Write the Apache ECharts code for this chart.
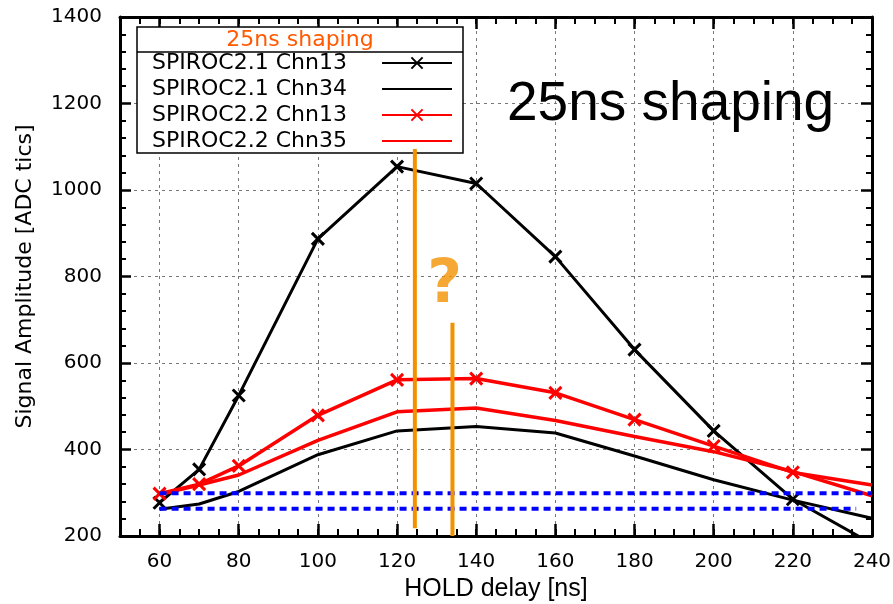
<!DOCTYPE html>
<html>
<head>
<meta charset="utf-8">
<script src="https://cdn.jsdelivr.net/npm/echarts@6/dist/echarts.min.js"></script>
<style>
  html, body { margin: 0; padding: 0; background: #fff; }
  #chart { width: 893px; height: 604px; }
</style>
</head>
<body>
<div id="chart"></div>
<script>
// HOLD delay [ns]
const holdDelay = [60, 70, 80, 100, 120, 140, 160, 180, 200, 220, 240];
const xMajorTicks = [60, 80, 100, 120, 140, 160, 180, 200, 220, 240];

// signal amplitudes [ADC tics]
const spiroc21Chn13 = [277, 354, 525, 887, 1054, 1015, 846, 631, 443, 285, 182];
const spiroc21Chn34 = [262, 274, 303, 388, 443, 453, 438, 385, 330, 283, 241];
const spiroc22Chn13 = [298, 320, 362, 479, 561, 564, 531, 469, 408, 347, 318];
const spiroc22Chn35 = [296, 318, 341, 421, 487, 496, 467, 430, 395, 349, 293];

const legendNames = ['SPIROC2.1 Chn13', 'SPIROC2.1 Chn34', 'SPIROC2.2 Chn13', 'SPIROC2.2 Chn35'];

// pedestal levels (blue dotted)
const pedestalHigh = [[60, 299], [240, 299]];
const pedestalLow = [[60, 263], [236, 263]];

// orange markers
const holdMarkA = [[124.5, 218], [124.5, 1095]];
const holdMarkB = [[134, 200], [134, 693]];
const questionAt = [[132, 778]];

// the point on the right border shows no marker in the original
const pairs = (ys) => ys.map((y, i) => (
  i === ys.length - 1 ? { value: [holdDelay[i], y], symbol: 'none' } : [holdDelay[i], y]
));

const FONT = 'DejaVu Sans';
const crossSymbol = 'path://M0,0L10,10M10,0L0,10';

const chart = echarts.init(document.getElementById('chart'), null, { renderer: 'canvas' });

const minorX = (position) => ({
  type: 'value', min: 50, max: 240, interval: 5, position,
  axisLine: { show: false },
  axisTick: { show: true, inside: true, length: 7, lineStyle: { color: '#000', width: 2 } },
  axisLabel: { show: false },
  splitLine: { show: false },
});

const baseLine = (name, data, color, width, withMarker) => ({
  name,
  type: 'line',
  data: pairs(data),
  symbol: withMarker ? crossSymbol : 'none',
  symbolSize: 12,
  showSymbol: withMarker,
  itemStyle: { color, borderColor: color, borderWidth: 3 },
  lineStyle: { color, width },
  z: 3,
});

chart.setOption({
  animation: false,
  grid: { left: 120, right: 21, top: 17, bottom: 68, outerBoundsMode: 'none' },
  xAxis: [
    {
      type: 'value', min: 50, max: 240, interval: 10, position: 'bottom',
      name: 'HOLD delay [ns]', nameLocation: 'middle', nameGap: 34,
      nameTextStyle: { fontFamily: 'Liberation Sans', fontSize: 25, color: '#000' },
      axisLine: { show: true, lineStyle: { color: '#000', width: 3 } },
      axisTick: { show: true, inside: true, length: 12, customValues: xMajorTicks, lineStyle: { color: '#000', width: 2.5 } },
      axisLabel: { customValues: xMajorTicks, fontFamily: FONT, fontSize: 20, color: '#000', margin: 16 },
      splitLine: { show: true, lineStyle: { color: '#777', width: 1, type: [3, 4] } },
    },
    minorX('bottom'),
    {
      type: 'value', min: 50, max: 240, interval: 10, position: 'top',
      axisLine: { show: true, lineStyle: { color: '#000', width: 3 } },
      axisTick: { show: true, inside: true, length: 12, customValues: xMajorTicks, lineStyle: { color: '#000', width: 2.5 } },
      axisLabel: { show: false },
      splitLine: { show: false },
    },
    minorX('top'),
  ],
  yAxis: [
    {
      type: 'value', min: 200, max: 1400, interval: 200, position: 'left',
      name: 'Signal Amplitude [ADC tics]', nameLocation: 'middle', nameGap: 84,
      nameTextStyle: { fontFamily: FONT, fontSize: 22, color: '#000' },
      axisLine: { show: true, lineStyle: { color: '#000', width: 3 } },
      axisTick: { show: true, inside: true, length: 11, lineStyle: { color: '#000', width: 2.5 } },
      minorTick: { show: true, splitNumber: 5, length: 6, lineStyle: { color: '#000', width: 2 } },
      axisLabel: { fontFamily: FONT, fontSize: 20, color: '#000', margin: 18, formatter: (v) => String(v) },
      splitLine: { show: true, lineStyle: { color: '#777', width: 1, type: [3, 4] } },
    },
    {
      type: 'value', min: 200, max: 1400, interval: 200, position: 'right',
      axisLine: { show: true, lineStyle: { color: '#000', width: 3 } },
      axisTick: { show: true, inside: true, length: 11, lineStyle: { color: '#000', width: 2.5 } },
      minorTick: { show: true, splitNumber: 5, length: 6, lineStyle: { color: '#000', width: 2 } },
      axisLabel: { show: false },
      splitLine: { show: false },
    },
  ],
  legend: {
    // markerless series get a bare line as icon
    data: legendNames.map((name, i) => (i % 2 === 1 ? { name, itemStyle: { opacity: 0 } } : { name })),
    orient: 'vertical',
    left: 152, top: 50,
    padding: 0,
    align: 'right',
    itemWidth: 70, itemHeight: 14, itemGap: 0,
    selectedMode: false,
    formatter: (name) => '{t|' + name + '}',
    textStyle: {
      fontFamily: FONT, fontSize: 22, color: '#000', lineHeight: 26,
      rich: { t: { fontFamily: FONT, fontSize: 22, color: '#000', width: 225, align: 'left', lineHeight: 26 } },
    },
    z: 6,
  },
  graphic: [
    { type: 'rect', shape: { x: 137, y: 27, width: 326, height: 126 }, style: { fill: '#fff', stroke: '#000', lineWidth: 1.5 }, z: 5 },
    { type: 'line', shape: { x1: 137, y1: 52, x2: 463, y2: 52 }, style: { stroke: '#000', lineWidth: 1.5 }, z: 5 },
    { type: 'text', x: 300, y: 40, style: { text: '25ns shaping', fill: '#ff5a00', font: '22px "DejaVu Sans"', textAlign: 'center', textVerticalAlign: 'middle' }, z: 7 },
    { type: 'text', x: 507, y: 105, style: { text: '25ns shaping', fill: '#000', font: '55px "Liberation Sans"', textAlign: 'left', textVerticalAlign: 'middle' }, z: 7 },
  ],
  series: [
    baseLine(legendNames[0], spiroc21Chn13, '#000', 3, true),
    baseLine(legendNames[1], spiroc21Chn34, '#000', 3, false),
    baseLine(legendNames[2], spiroc22Chn13, '#ff0000', 3.5, true),
    baseLine(legendNames[3], spiroc22Chn35, '#ff0000', 3.5, false),
    {
      name: 'pedestal high', type: 'line', data: pedestalHigh, symbol: 'none',
      lineStyle: { color: '#0000ff', width: 4, type: [7, 5] }, z: 4,
    },
    {
      name: 'pedestal low', type: 'line', data: pedestalLow, symbol: 'none',
      lineStyle: { color: '#0000ff', width: 4, type: [7, 5] }, z: 4,
    },
    {
      name: 'hold A', type: 'line', data: holdMarkA, symbol: 'none',
      lineStyle: { color: '#f39200', width: 4 }, z: 5,
    },
    {
      name: 'hold B', type: 'line', data: holdMarkB, symbol: 'none',
      lineStyle: { color: '#f39200', width: 4 }, z: 5,
    },
    {
      name: 'question', type: 'scatter', data: questionAt, symbolSize: 0,
      label: { show: true, formatter: '?', position: 'inside', color: '#f39200', fontFamily: FONT, fontWeight: 'bold', fontSize: 60 },
      z: 5,
    },
  ],
});
</script>
</body>
</html>
